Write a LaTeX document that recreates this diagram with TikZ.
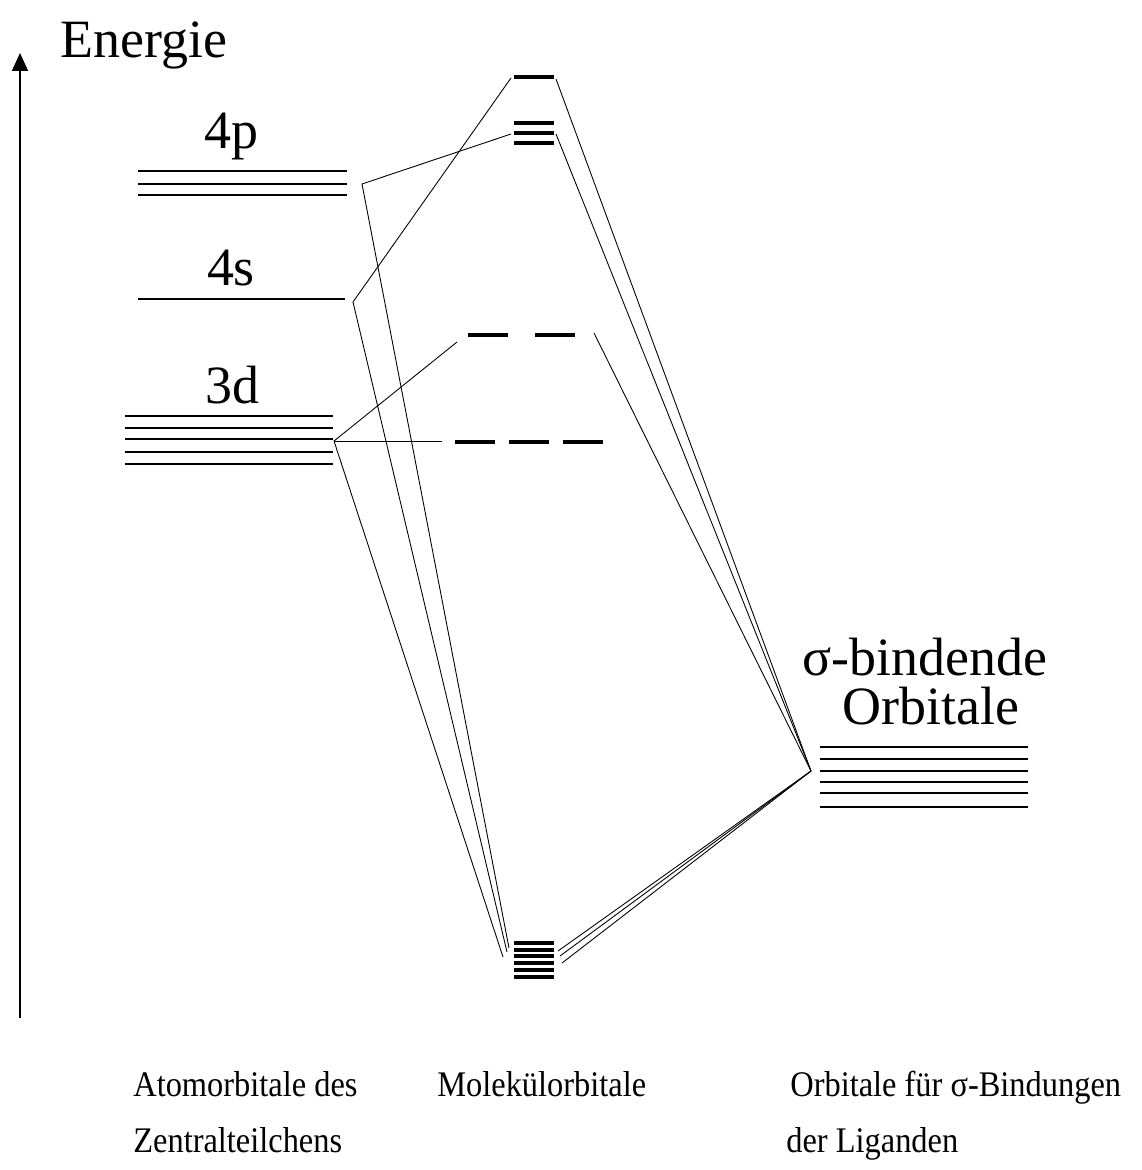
\documentclass[tikz,border=0pt]{standalone}
\usepackage{fontspec}
\setmainfont{Liberation Serif}
\newfontfamily\labelfont[FakeStretch=0.9]{Liberation Serif}
\usetikzlibrary{arrows.meta}

\begin{document}
\begin{tikzpicture}[x=0.02cm,y=-0.02cm,
		level/.style={line width=1.1pt},
		mobar/.style={line width=2.2pt},
		link/.style={line width=0.5pt},
		big/.style={font=\fontsize{30.7}{36}\selectfont,inner sep=0pt},
		small/.style={font=\labelfont\fontsize{20.5}{24}\selectfont,inner sep=0pt}]
			\useasboundingbox (0,0) rectangle (1142,1170);
			
			% Energy axis
			\coordinate (E0) at (20,1018);
			\coordinate (E1) at (20,53);
			\draw[line width=1.1pt,-{Triangle[length=0.36cm,width=0.32cm]}] (E0) -- (E1);
			\node[big,anchor=base west] (energie) at (60,57) {Energie};
			
			% Metal 4p, 4s, 3d
			\foreach \y in {171,184,195} \draw[level] (138,\y) -- (347,\y);
			\node[big,anchor=base] (p4) at (231,148) {4p};
			\draw[level] (138,299) -- (345,299);
			\node[big,anchor=base] (s4) at (231,285) {4s};
			\foreach \y in {416,428,439,452,464} \draw[level] (125,\y) -- (333,\y);
			\node[big,anchor=base] (d3) at (232,403) {3d};
			
			% Ligand sigma orbitals
			\foreach \y in {747,759,771,782,793,807} \draw[level] (820,\y) -- (1028,\y);
			\node[big,anchor=base] (sig) at (925,675) {σ-bindende};
			\node[big,anchor=base] (orb) at (931,724) {Orbitale};
			
			% Molecular orbitals
			\draw[mobar] (514,77) -- (554,77);
			\foreach \y in {123,133,143} \draw[mobar] (514,\y) -- (554,\y);
			\foreach \x in {468,535} \draw[mobar] (\x,335) -- ++(40,0);
			\foreach \x in {455,509,563} \draw[mobar] (\x,442) -- ++(40,0);
			\foreach \y in {943,950,956,963,970,977} \draw[line width=2pt] (514,\y) -- (554,\y);
			
			% Connector ends
			\coordinate (c4p) at (362,184);
			\coordinate (c4s) at (353,302);
			\coordinate (c3d) at (334,441);
			\coordinate (clig) at (811,771);
			\coordinate (a1gs) at (511,78);
			\coordinate (t1us) at (511,134);
			\coordinate (egs) at (457,342);
			\coordinate (t2g) at (442,441);
			\coordinate (a1gr) at (556,79);
			\coordinate (t1ur) at (556,134);
			\coordinate (egr) at (594,333);
			\coordinate (b1) at (509,948);
			\coordinate (b2) at (507,952);
			\coordinate (b3) at (503,957);
			\coordinate (r1) at (558,951);
			\coordinate (r2) at (560,956);
			\coordinate (r3) at (562,963);
			
			% Metal side
			\draw[link] (t1us) -- (c4p) -- (b1);
			\draw[link] (a1gs) -- (c4s) -- (b2);
			\draw[link] (egs) -- (c3d) -- (b3);
			\draw[link] (c3d) -- (t2g);
			
			% Ligand side
			\draw[link] (a1gr) -- (clig);
			\draw[link] (t1ur) -- (clig);
			\draw[link] (egr) -- (clig);
			\draw[link] (r1) -- (clig);
			\draw[link] (r2) -- (clig);
			\draw[link] (r3) -- (clig);
			
			% Labels
			\node[small,anchor=base west] (ao1) at (133,1096) {Atomorbitale des};
			\node[small,anchor=base west] (ao2) at (133,1152) {Zentralteilchens};
			\node[small,anchor=base west] (mol) at (437,1096) {Molekülorbitale};
			\node[small,anchor=base west] (lo1) at (790,1096) {Orbitale für σ-Bindungen};
			\node[small,anchor=base west] (lo2) at (786,1152) {der Liganden};
		\end{tikzpicture}
\end{document}
